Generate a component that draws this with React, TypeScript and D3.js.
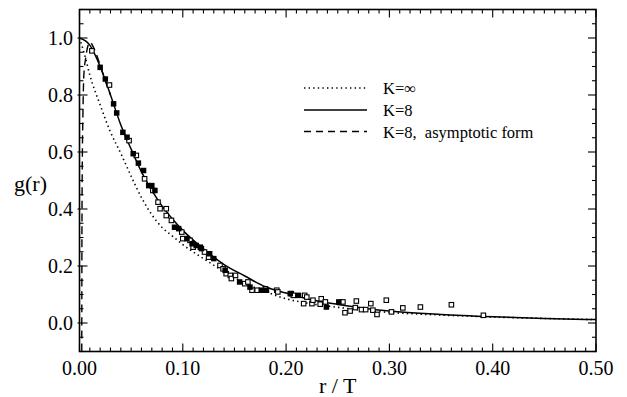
import * as d3 from "d3";
import { useEffect, useRef } from "react";

// K = infinity (dotted)
const kInfR = [0, 0.005, 0.01, 0.02, 0.03, 0.04, 0.05, 0.06, 0.07, 0.08, 0.09, 0.1, 0.12, 0.14, 0.16, 0.18, 0.2, 0.22, 0.25, 0.3, 0.35, 0.4, 0.45, 0.5];
const kInfG = [1.0, 0.94, 0.87, 0.765, 0.67, 0.595, 0.515, 0.44, 0.38, 0.335, 0.305, 0.275, 0.226, 0.18, 0.14, 0.11, 0.085, 0.07, 0.055, 0.037, 0.028, 0.021, 0.016, 0.012];

// K = 8 (solid)
const k8R = [0, 0.01, 0.02, 0.03, 0.04, 0.05, 0.06, 0.07, 0.08, 0.09, 0.1, 0.12, 0.14, 0.16, 0.18, 0.2, 0.22, 0.25, 0.3, 0.35, 0.4, 0.45, 0.5];
const k8G = [1.0, 0.975, 0.9, 0.8, 0.695, 0.61, 0.53, 0.465, 0.41, 0.365, 0.325, 0.26, 0.205, 0.165, 0.127, 0.105, 0.085, 0.065, 0.042, 0.03, 0.022, 0.016, 0.012];

// K = 8, asymptotic form (dashed)
const asymR = [0.0022, 0.0023, 0.0025, 0.0028, 0.0033, 0.0042, 0.006, 0.01, 0.015, 0.02, 0.025, 0.03];
const asymG = [-0.1, 0.2, 0.45, 0.6, 0.73, 0.87, 0.93, 0.985, 0.955, 0.905, 0.85, 0.8];

// simulation points
const filledPts: [number, number][] = [
  [0.02, 0.897], [0.025, 0.856], [0.033, 0.769], [0.036, 0.737], [0.042, 0.669], [0.046, 0.652],
  [0.052, 0.594], [0.057, 0.561], [0.062, 0.535], [0.067, 0.482], [0.07, 0.482], [0.073, 0.465],
  [0.092, 0.336], [0.096, 0.331], [0.104, 0.296], [0.109, 0.278], [0.113, 0.272], [0.117, 0.266],
  [0.118, 0.261], [0.126, 0.243], [0.13, 0.226], [0.141, 0.185], [0.155, 0.144], [0.165, 0.126],
  [0.176, 0.115], [0.181, 0.115], [0.204, 0.103], [0.212, 0.097], [0.239, 0.056], [0.251, 0.074],
];
const openPts: [number, number][] = [
  [0.012, 0.955], [0.029, 0.835], [0.048, 0.64], [0.055, 0.588], [0.063, 0.506], [0.071, 0.465],
  [0.076, 0.424], [0.078, 0.401], [0.084, 0.401], [0.084, 0.377], [0.089, 0.36], [0.099, 0.319],
  [0.1, 0.296], [0.107, 0.29], [0.11, 0.266], [0.121, 0.249], [0.125, 0.231], [0.136, 0.202],
  [0.139, 0.19], [0.142, 0.173], [0.146, 0.167], [0.147, 0.156], [0.151, 0.167], [0.16, 0.138],
  [0.163, 0.144], [0.167, 0.115], [0.172, 0.115], [0.18, 0.12], [0.191, 0.115], [0.192, 0.109],
  [0.205, 0.103], [0.207, 0.097], [0.217, 0.068], [0.218, 0.097], [0.22, 0.091], [0.225, 0.068],
  [0.226, 0.08], [0.233, 0.066], [0.234, 0.085], [0.238, 0.074], [0.255, 0.074], [0.257, 0.036],
  [0.262, 0.042], [0.267, 0.054], [0.268, 0.077], [0.273, 0.047], [0.277, 0.047], [0.282, 0.068],
  [0.284, 0.045], [0.288, 0.03], [0.297, 0.08], [0.302, 0.039], [0.313, 0.053], [0.33, 0.056],
  [0.36, 0.064], [0.391, 0.027],
];

const xTicks = [0, 0.1, 0.2, 0.3, 0.4, 0.5];
const yTicks = [0, 0.2, 0.4, 0.6, 0.8, 1.0];
const legendLabels = ["K=\u221e", "K=8", "K=8,\u00a0 asymptotic form"];

export default function App() {
  const svgRef = useRef<SVGSVGElement | null>(null);
  const width = 627;
  const height = 397;

  useEffect(() => {
    if (!svgRef.current) return;
    const svg = d3.select(svgRef.current);
    svg.selectAll("*").remove();

    const left = 79.5, right = 596, top = 9.5, bottom = 351.5;
    const x = d3.scaleLinear().domain([0, 0.5]).range([left, right]);
    const y = d3.scaleLinear().domain([-0.1, 1.1]).range([bottom, top]);
    const font = "'Liberation Serif', 'Times New Roman', serif";

    svg.append("clipPath").attr("id", "plotclip")
      .append("rect").attr("x", left).attr("y", top).attr("width", right - left).attr("height", bottom - top);

    // frame
    svg.append("rect")
      .attr("x", left).attr("y", top).attr("width", right - left).attr("height", bottom - top)
      .attr("fill", "none").attr("stroke", "#000").attr("stroke-width", 1.6);

    // ticks on all four sides
    const ticks = svg.append("g").attr("stroke", "#000").attr("stroke-width", 1.1);
    const xMinor = d3.range(0, 51).map((i) => i / 100);
    xMinor.forEach((v, i) => {
      const major = i % 10 === 0;
      const len = major ? 8 : 4;
      ticks.append("line").attr("x1", x(v)).attr("x2", x(v)).attr("y1", bottom).attr("y2", bottom - len);
      ticks.append("line").attr("x1", x(v)).attr("x2", x(v)).attr("y1", top).attr("y2", top + len);
    });
    const yMinor = d3.range(-2, 23).map((i) => i / 20);
    yMinor.forEach((v, i) => {
      const major = (i - 2) % 4 === 0 && v >= 0 && v <= 1.0001;
      const len = major ? 8 : 4;
      ticks.append("line").attr("x1", left - (major ? 2 : 0)).attr("x2", left + len).attr("y1", y(v)).attr("y2", y(v));
      ticks.append("line").attr("x1", right).attr("x2", right - len).attr("y1", y(v)).attr("y2", y(v));
    });

    // tick labels
    svg.append("g").selectAll("text").data(xTicks).enter().append("text")
      .attr("x", (d) => x(d)).attr("y", 375)
      .attr("text-anchor", "middle").attr("font-family", font).attr("font-size", 20)
      .text((d) => d.toFixed(2));
    svg.append("g").selectAll("text").data(yTicks).enter().append("text")
      .attr("x", 73).attr("y", (d) => y(d) + 7)
      .attr("text-anchor", "end").attr("font-family", font).attr("font-size", 20)
      .text((d) => d.toFixed(1));

    // axis titles
    svg.append("text").attr("x", x(0.25)).attr("y", 393)
      .attr("text-anchor", "middle").attr("font-family", font).attr("font-size", 22)
      .text("r / T");
    svg.append("text").attr("x", 14).attr("y", 191)
      .attr("font-family", font).attr("font-size", 22)
      .text("g(r)");

    const plot = svg.append("g").attr("clip-path", "url(#plotclip)");
    const line = d3.line<[number, number]>()
      .x((d) => x(d[0])).y((d) => y(d[1]))
      .curve(d3.curveMonotoneX);

    const series = [
      { r: kInfR, g: kInfG, dash: "1.4 3.2", w: 1.6 },
      { r: k8R, g: k8G, dash: null, w: 1.5 },
      { r: asymR, g: asymG, dash: "8 5", w: 1.4 },
    ];
    series.forEach((s) => {
      const pts = s.r.map((r, i) => [r, s.g[i]] as [number, number]);
      plot.append("path").attr("d", line(pts))
        .attr("fill", "none").attr("stroke", "#000").attr("stroke-width", s.w)
        .attr("stroke-dasharray", s.dash);
    });

    const sz = 4.5;
    plot.append("g").selectAll("rect").data(openPts).enter().append("rect")
      .attr("x", (d) => x(d[0]) - sz / 2).attr("y", (d) => y(d[1]) - sz / 2)
      .attr("width", sz).attr("height", sz)
      .attr("fill", "#fff").attr("stroke", "#000").attr("stroke-width", 1.1);
    plot.append("g").selectAll("rect").data(filledPts).enter().append("rect")
      .attr("x", (d) => x(d[0]) - sz / 2 - 0.5).attr("y", (d) => y(d[1]) - sz / 2 - 0.5)
      .attr("width", sz + 1).attr("height", sz + 1)
      .attr("fill", "#000");

    // legend
    const legY = [88, 110, 131.5];
    const legDash = ["1.4 3.2", null, "7 5"];
    legendLabels.forEach((lab, i) => {
      svg.append("line").attr("x1", 304).attr("x2", 367).attr("y1", legY[i]).attr("y2", legY[i])
        .attr("stroke", "#000").attr("stroke-width", i === 0 ? 1.6 : 1.4)
        .attr("stroke-dasharray", legDash[i]);
      svg.append("text").attr("x", 383).attr("y", legY[i] + 6)
        .attr("font-family", font).attr("font-size", 16.5)
        .text(lab);
    });
  }, []);

  return (
    <svg ref={svgRef} width={width} height={height}
      style={{ position: "absolute", left: 0, top: 0, background: "#fff" }} />
  );
}
